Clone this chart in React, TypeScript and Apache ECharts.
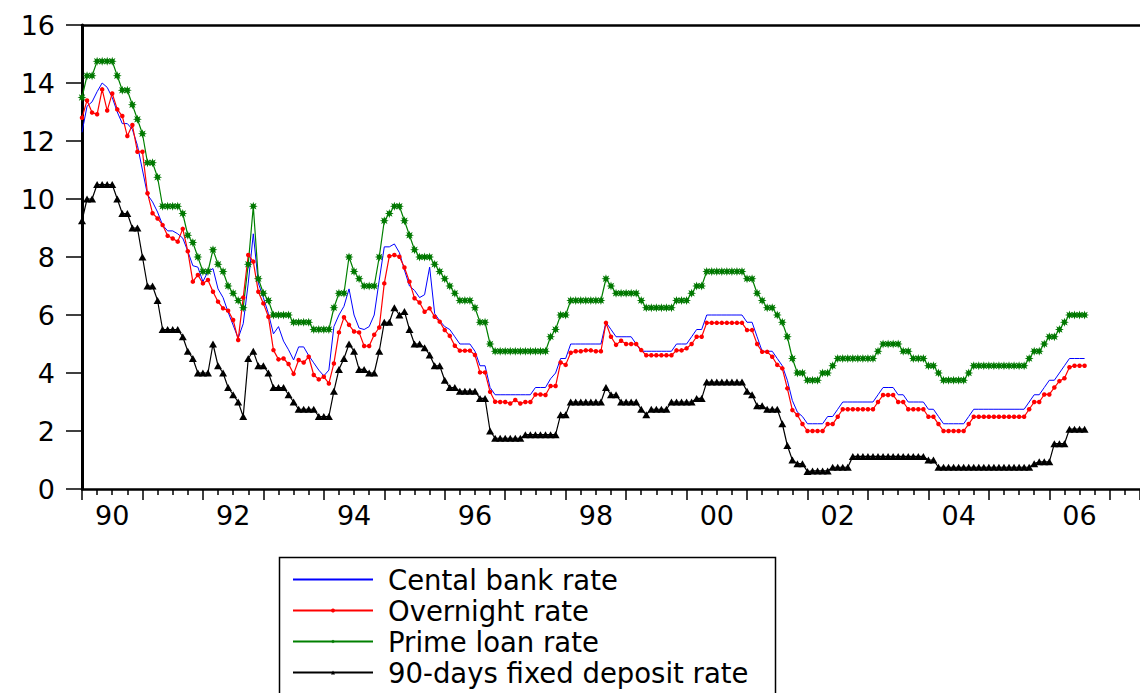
import React, { useEffect, useRef } from "react";
import * as echarts from "echarts";

// Monthly observations, 1990M01 .. 2006M08 (200 months)
const yearLabels = ["90", "92", "94", "96", "98", "00", "02", "04", "06"];
const seriesNames = [
  "Cental bank rate",
  "Overnight rate",
  "Prime loan rate",
  "90-days fixed deposit rate",
];

const centralBankRate = [
  12.3, 13.2, 13.35, 13.7, 14.0, 13.85, 13.5, 13.0, 12.6, 12.6, 12.4, 11.85,
  11.0, 10.15, 9.9, 9.55, 9.1, 8.9, 8.9, 8.8, 8.65, 8.2, 7.7, 7.65,
  7.15, 7.5, 7.6, 6.9, 6.6, 6.1, 5.65, 5.2, 5.7, 7.1, 8.8, 7.1,
  6.6, 6.05, 5.35, 5.6, 5.1, 4.8, 4.45, 4.9, 4.9, 4.6, 4.35, 4.1,
  3.9, 4.1, 5.6, 6.0, 6.3, 6.9, 6.0, 5.55, 5.5, 5.6, 6.0, 7.2,
  8.35, 8.35, 8.45, 8.15, 7.55, 7.0, 6.85, 6.6, 6.7, 7.65, 6.05, 5.8,
  5.6, 5.5, 5.25, 5.0, 5.0, 5.0, 4.75, 4.25, 4.25, 3.5, 3.25, 3.25,
  3.25, 3.25, 3.25, 3.25, 3.25, 3.25, 3.5, 3.5, 3.5, 3.8, 4.0, 4.5,
  4.5, 5.0, 5.0, 5.0, 5.0, 5.0, 5.0, 5.0, 5.75, 5.5, 5.25, 5.25,
  5.25, 5.25, 5.0, 4.75, 4.75, 4.75, 4.75, 4.75, 4.75, 4.75, 5.0, 5.0,
  5.0, 5.25, 5.5, 5.5, 6.0, 6.0, 6.0, 6.0, 6.0, 6.0, 6.0, 6.0,
  5.75, 5.75, 5.25, 4.75, 4.75, 4.75, 4.5, 4.25, 3.75, 3.05, 2.65, 2.5,
  2.25, 2.25, 2.25, 2.25, 2.5, 2.5, 2.75, 3.0, 3.0, 3.0, 3.0, 3.0,
  3.0, 3.0, 3.25, 3.5, 3.5, 3.5, 3.25, 3.25, 3.0, 3.0, 3.0, 3.0,
  2.75, 2.75, 2.5, 2.25, 2.25, 2.25, 2.25, 2.25, 2.5, 2.75, 2.75, 2.75,
  2.75, 2.75, 2.75, 2.75, 2.75, 2.75, 2.75, 2.75, 3.0, 3.25, 3.25, 3.5,
  3.75, 3.75, 4.0, 4.25, 4.5, 4.5, 4.5, 4.5,
];

const overnightRate = [
  12.8, 13.4, 12.98, 12.92, 13.78, 13.05, 13.64, 13.09, 12.86, 12.17, 12.55, 11.63,
  11.63, 10.2, 9.51, 9.33, 9.1, 8.73, 8.64, 8.53, 8.97, 8.2, 7.15, 7.38,
  7.09, 7.21, 6.8, 6.46, 6.23, 6.15, 5.83, 5.14, 6.6, 8.07, 7.84, 6.8,
  6.4, 5.94, 4.79, 4.47, 4.5, 4.31, 3.97, 4.45, 4.36, 4.56, 3.93, 3.78,
  3.87, 3.64, 4.33, 5.4, 5.92, 5.66, 5.43, 5.4, 4.93, 4.93, 5.32, 5.57,
  7.09, 8.03, 8.07, 8.01, 7.64, 7.15, 6.58, 6.43, 6.11, 6.23, 5.94, 5.77,
  5.48, 5.28, 4.94, 4.77, 4.77, 4.77, 4.62, 4.02, 4.02, 3.35, 3.01, 3.0,
  3.0, 2.95, 3.07, 2.95, 3.0, 3.0, 3.26, 3.26, 3.24, 3.55, 3.55, 4.36,
  4.28, 4.7, 4.75, 4.75, 4.78, 4.78, 4.75, 4.75, 5.73, 5.25, 4.97, 5.11,
  5.0, 5.0, 5.0, 4.79, 4.61, 4.61, 4.61, 4.61, 4.61, 4.61, 4.78, 4.78,
  4.85, 5.0, 5.25, 5.25, 5.73, 5.73, 5.73, 5.73, 5.73, 5.73, 5.73, 5.73,
  5.48, 5.48, 5.0, 4.73, 4.73, 4.56, 4.28, 4.16, 3.47, 2.72, 2.55, 2.24,
  2.0, 2.0, 2.0, 2.0, 2.24, 2.24, 2.49, 2.75, 2.75, 2.75, 2.75, 2.75,
  2.75, 2.75, 3.0, 3.24, 3.24, 3.24, 3.0, 3.0, 2.75, 2.75, 2.75, 2.75,
  2.49, 2.49, 2.24, 2.0, 2.0, 2.0, 2.0, 2.0, 2.24, 2.49, 2.49, 2.49,
  2.49, 2.49, 2.49, 2.49, 2.49, 2.49, 2.49, 2.49, 2.75, 3.0, 3.0, 3.26,
  3.26, 3.5, 3.72, 3.82, 4.2, 4.25, 4.25, 4.25,
];

const primeLoanRate = [
  13.5, 14.25, 14.25, 14.75, 14.75, 14.75, 14.75, 14.25, 13.75, 13.75, 13.25, 12.75,
  12.25, 11.25, 11.25, 10.75, 9.75, 9.75, 9.75, 9.75, 9.5, 8.75, 8.5, 8.0,
  7.5, 7.5, 8.25, 7.75, 7.5, 7.0, 6.75, 6.5, 6.25, 7.75, 9.75, 7.25,
  6.75, 6.5, 6.0, 6.0, 6.0, 6.0, 5.75, 5.75, 5.75, 5.75, 5.5, 5.5,
  5.5, 5.5, 6.25, 6.75, 6.75, 8.0, 7.5, 7.25, 7.0, 7.0, 7.0, 8.0,
  9.25, 9.5, 9.75, 9.75, 9.25, 8.75, 8.25, 8.0, 8.0, 8.0, 7.75, 7.5,
  7.25, 7.0, 6.75, 6.5, 6.5, 6.5, 6.25, 5.75, 5.75, 5.0, 4.75, 4.75,
  4.75, 4.75, 4.75, 4.75, 4.75, 4.75, 4.75, 4.75, 4.75, 5.25, 5.5, 6.0,
  6.0, 6.5, 6.5, 6.5, 6.5, 6.5, 6.5, 6.5, 7.25, 7.0, 6.75, 6.75,
  6.75, 6.75, 6.75, 6.5, 6.25, 6.25, 6.25, 6.25, 6.25, 6.25, 6.5, 6.5,
  6.5, 6.75, 7.0, 7.0, 7.5, 7.5, 7.5, 7.5, 7.5, 7.5, 7.5, 7.5,
  7.25, 7.25, 6.75, 6.5, 6.25, 6.25, 6.0, 5.75, 5.25, 4.5, 4.0, 4.0,
  3.75, 3.75, 3.75, 4.0, 4.0, 4.25, 4.5, 4.5, 4.5, 4.5, 4.5, 4.5,
  4.5, 4.5, 4.75, 5.0, 5.0, 5.0, 5.0, 4.75, 4.75, 4.5, 4.5, 4.5,
  4.25, 4.25, 4.0, 3.75, 3.75, 3.75, 3.75, 3.75, 4.0, 4.25, 4.25, 4.25,
  4.25, 4.25, 4.25, 4.25, 4.25, 4.25, 4.25, 4.25, 4.5, 4.75, 4.75, 5.0,
  5.25, 5.25, 5.5, 5.75, 6.0, 6.0, 6.0, 6.0,
];

const fixedDeposit90Rate = [
  9.25, 10.0, 10.0, 10.5, 10.5, 10.5, 10.5, 10.0, 9.5, 9.5, 9.0, 9.0,
  8.0, 7.0, 7.0, 6.5, 5.5, 5.5, 5.5, 5.5, 5.25, 4.75, 4.5, 4.0,
  4.0, 4.0, 5.0, 4.25, 4.0, 3.5, 3.25, 3.0, 2.5, 4.5, 4.75, 4.25,
  4.25, 4.0, 3.5, 3.5, 3.5, 3.25, 3.0, 2.75, 2.75, 2.75, 2.75, 2.5,
  2.5, 2.5, 3.375, 4.125, 4.5, 5.0, 4.75, 4.125, 4.125, 4.0, 4.0, 4.75,
  5.75, 5.75, 6.25, 6.0, 6.125, 5.5, 5.0, 5.0, 4.875, 4.625, 4.25, 4.25,
  3.75, 3.5, 3.5, 3.375, 3.375, 3.375, 3.375, 3.125, 3.125, 2.0, 1.75, 1.75,
  1.75, 1.75, 1.75, 1.75, 1.875, 1.875, 1.875, 1.875, 1.875, 1.875, 1.875, 2.5625,
  2.5625, 3.0, 3.0, 3.0, 3.0, 3.0, 3.0, 3.0, 3.5, 3.25, 3.25, 3.0,
  3.0, 3.0, 3.0, 2.75, 2.5625, 2.75, 2.75, 2.75, 2.75, 3.0, 3.0, 3.0,
  3.0, 3.0, 3.125, 3.125, 3.6875, 3.6875, 3.6875, 3.6875, 3.6875, 3.6875, 3.6875, 3.6875,
  3.375, 3.25, 2.875, 2.875, 2.75, 2.75, 2.75, 2.25, 1.5, 1.0, 0.875, 0.875,
  0.6, 0.625, 0.625, 0.625, 0.625, 0.75, 0.75, 0.75, 0.75, 1.125, 1.125, 1.125,
  1.125, 1.125, 1.125, 1.125, 1.125, 1.125, 1.125, 1.125, 1.125, 1.125, 1.125, 1.125,
  1.0, 1.0, 0.75, 0.75, 0.75, 0.75, 0.75, 0.75, 0.75, 0.75, 0.75, 0.75,
  0.75, 0.75, 0.75, 0.75, 0.75, 0.75, 0.75, 0.75, 0.75, 0.875, 0.9375, 0.9375,
  0.9375, 1.5625, 1.5625, 1.5625, 2.0625, 2.0625, 2.0625, 2.0625,
];

const FONT = "'DejaVu Sans', 'Liberation Sans', Arial, sans-serif";
const STAR =
  "path://M10 0L4.6 1.9L7.07 7.07L1.9 4.6L0 10L-1.9 4.6L-7.07 7.07L-4.6 1.9L-10 0L-4.6 -1.9L-7.07 -7.07L-1.9 -4.6L0 -10L1.9 -4.6L7.07 -7.07L4.6 -1.9Z";

const toPairs = (arr: number[]) => arr.map((v, i) => [i, v]);

export default function App() {
  const ref = useRef<HTMLDivElement>(null);

  useEffect(() => {
    if (!ref.current) return;
    const chart = echarts.init(ref.current, undefined, { renderer: "svg" });
    const xMax = 210;
    const labelPositions = yearLabels.map((_, k) => k * 24 + 6);

    chart.setOption({
      animation: false,
      backgroundColor: "#ffffff",
      grid: { left: 82, right: 0, top: 25, bottom: 204 },
      graphic: [
        {
          type: "rect",
          left: 277,
          top: 555,
          shape: { x: 0, y: 0, width: 496, height: 160 },
          style: { fill: "none", stroke: "#000", lineWidth: 1.5 },
          silent: true,
        },
      ],
      legend: {
        orient: "vertical",
        left: 277,
        top: 555,
        height: 400,
        padding: [9, 11, 12, 15],
        itemGap: 0,
        itemWidth: 80,
        itemHeight: 5,
        selectedMode: false,
        borderWidth: 0,
        textStyle: {
          fontFamily: FONT,
          fontSize: 27.5,
          color: "#000000",
          lineHeight: 31,
          padding: [0, 0, 0, 10],
        },
        data: [
          { name: seriesNames[0], itemStyle: { opacity: 0 } },
          { name: seriesNames[1] },
          { name: seriesNames[2] },
          { name: seriesNames[3] },
        ],
      },
      xAxis: [
        {
          type: "value",
          min: 0,
          max: xMax,
          interval: 12,
          position: "bottom",
          splitLine: { show: false },
          axisLine: { show: true, onZero: false, lineStyle: { color: "#000", width: 2.5 } },
          axisTick: { show: true, length: 11, lineStyle: { color: "#000", width: 1.5 } },
          minorTick: { show: true, splitNumber: 4, length: 6, lineStyle: { color: "#000", width: 1.5 } },
          axisLabel: {
            show: true,
            customValues: labelPositions,
            formatter: (v: number) => {
              const k = Math.round((v - 6) / 24);
              return yearLabels[k] ?? "";
            },
            fontFamily: FONT,
            fontSize: 27,
            color: "#000",
            margin: 13,
          },
        },
        {
          type: "value",
          min: 0,
          max: xMax,
          position: "top",
          splitLine: { show: false },
          axisLine: { show: true, onZero: false, lineStyle: { color: "#000", width: 2.5 } },
          axisTick: { show: false },
          axisLabel: { show: false },
        },
      ],
      yAxis: {
        type: "value",
        min: 0,
        max: 16,
        interval: 2,
        splitLine: { show: false },
        axisLine: { show: true, onZero: false, lineStyle: { color: "#000", width: 3 } },
        axisTick: { show: true, length: 16, lineStyle: { color: "#000", width: 1.5 } },
        axisLabel: { fontFamily: FONT, fontSize: 27, color: "#000", margin: 27 },
      },
      series: [
        {
          name: seriesNames[0],
          type: "line",
          xAxisIndex: 0,
          data: toPairs(centralBankRate),
          symbol: "circle",
          showSymbol: false,
          color: "#0000ff",
          lineStyle: { width: 1, color: "#0000ff" },
        },
        {
          name: seriesNames[1],
          type: "line",
          xAxisIndex: 0,
          data: toPairs(overnightRate),
          symbol: "circle",
          symbolSize: 4.5,
          color: "#ff0000",
          itemStyle: { color: "#ff0000" },
          lineStyle: { width: 1.2, color: "#ff0000" },
        },
        {
          name: seriesNames[2],
          type: "line",
          xAxisIndex: 0,
          data: toPairs(primeLoanRate),
          symbol: STAR,
          symbolSize: 9,
          color: "#008000",
          itemStyle: { color: "#007800" },
          lineStyle: { width: 1.2, color: "#008000" },
        },
        {
          name: seriesNames[3],
          type: "line",
          xAxisIndex: 0,
          data: toPairs(fixedDeposit90Rate),
          symbol: "triangle",
          symbolSize: [8, 7],
          color: "#000000",
          itemStyle: { color: "#000000" },
          lineStyle: { width: 1.2, color: "#000000" },
        },
      ],
    });

    return () => {
      chart.dispose();
    };
  }, []);

  return (
    <div
      ref={ref}
      style={{ position: "fixed", left: 0, top: 0, width: 1140, height: 693, background: "#fff" }}
    />
  );
}
